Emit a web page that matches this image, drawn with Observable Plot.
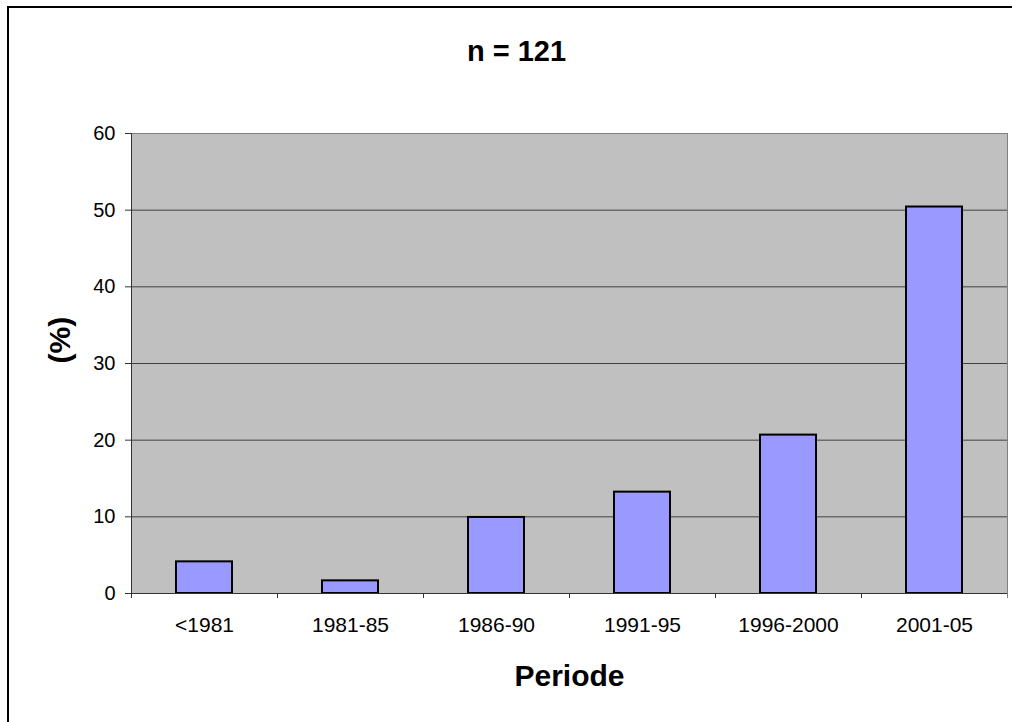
<!DOCTYPE html>
<html>
<head>
<meta charset="utf-8">
<script src="https://cdn.jsdelivr.net/npm/d3@7"></script>
<script src="https://cdn.jsdelivr.net/npm/@observablehq/plot@0.6"></script>
<style>
  html, body { margin: 0; padding: 0; background: #fff; overflow: hidden; }
  #wrap { position: relative; width: 1012px; height: 722px; overflow: hidden; }
  svg { display: block; }
</style>
</head>
<body>
<div id="wrap"><div id="chart"></div></div>
<script>
const categories = ["<1981", "1981-85", "1986-90", "1991-95", "1996-2000", "2001-05"];
const values = [4.13, 1.65, 9.92, 13.22, 20.66, 50.41];
const yTicks = [0, 10, 20, 30, 40, 50, 60];
const title = "n = 121";
const xTitle = "Periode";
const yTitle = "(%)";

const data = categories.map((c, i) => ({period: c, value: values[i]}));

const W = 1012, H = 722;
const mL = 131, mR = 5, mT = 133, mB = 129;
const bw = (W - mL - mR) / categories.length;
const font = "'Liberation Sans', Arial, Helvetica, sans-serif";

const chart = Plot.plot({
  width: W,
  height: H,
  marginLeft: mL,
  marginRight: mR,
  marginTop: mT,
  marginBottom: mB,
  style: {fontFamily: font, background: "#fff", color: "#000"},
  x: {domain: categories, padding: 0, label: null},
  y: {domain: [0, 60], label: null},
  marks: [
    Plot.frame({fill: "#C0C0C0", stroke: "#808080"}),
    Plot.ruleY(yTicks.filter(t => t > 0 && t < 60), {stroke: "#404040", strokeWidth: 1}),
    Plot.barY(data, {x: "period", y: "value", fill: "#9999FF", stroke: "#000", strokeWidth: 2, insetLeft: 45, insetRight: 45}),
    Plot.ruleY([0], {stroke: "#333"}),
    Plot.ruleX(categories, {x: d => d, y1: 0, y2: 0, dx: -bw / 2, insetBottom: -5, stroke: "#333"}),
    Plot.ruleX(categories.slice(-1), {x: d => d, y1: 0, y2: 0, dx: bw / 2, insetBottom: -5, stroke: "#808080"}),
    Plot.ruleX(categories.slice(0, 1), {x: d => d, y1: 0, y2: 60, dx: -bw / 2, stroke: "#333"}),
    Plot.axisY({ticks: yTicks, tickSize: 6, tickPadding: 10, fontSize: 20, stroke: "#333", label: null}),
    Plot.axisX({tickSize: 0, tickPadding: 24, fontSize: 21, label: null}),
    Plot.text([title], {frameAnchor: "top", dx: 516 - (mL + (W - mR)) / 2, dy: -82, lineAnchor: "middle", fontSize: 29, fontWeight: "bold"}),
    Plot.text([xTitle], {frameAnchor: "bottom", dy: 83, lineAnchor: "middle", fontSize: 30, fontWeight: "bold"}),
    Plot.text([yTitle], {frameAnchor: "left", dx: -71, rotate: -90, lineAnchor: "middle", fontSize: 30, fontWeight: "bold"})
  ]
});
// outer chart-area border (only top and left edges are visible in the crop)
d3.select(chart).append("path")
  .attr("d", `M8,${H + 10}V7H${W + 10}`)
  .attr("fill", "none")
  .attr("stroke", "#000")
  .attr("stroke-width", 2);
document.getElementById("chart").appendChild(chart);
</script>
</body>
</html>
